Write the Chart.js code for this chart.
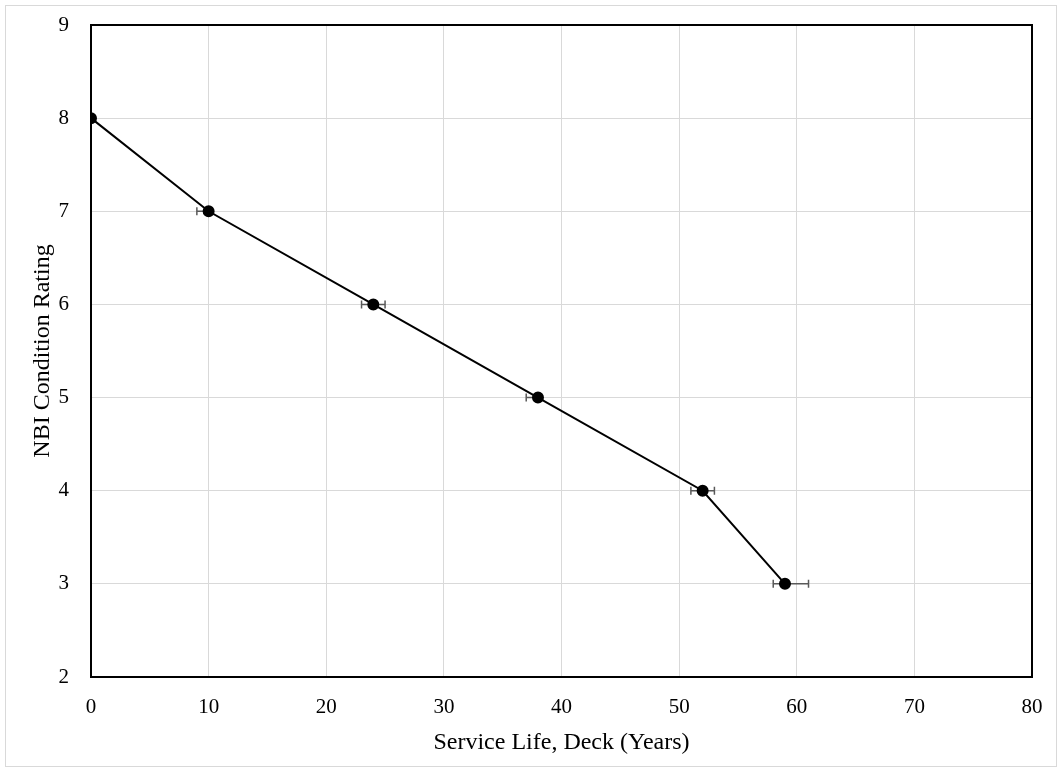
<!DOCTYPE html>
<html>
<head>
<meta charset="utf-8">
<script src="https://cdn.jsdelivr.net/npm/chart.js@4.4.1/dist/chart.umd.min.js"></script>
<style>
  html, body { margin: 0; padding: 0; background: #fff; }
  #wrap { width: 1062px; height: 772px; position: relative; }
</style>
</head>
<body>
<div id="wrap"><canvas id="chart"></canvas></div>
<script>
// Service life (years) for each NBI condition rating
const serviceYears = [0, 10, 24, 38, 52, 59];
const ratings = [8, 7, 6, 5, 4, 3];
// horizontal error bars (years)
const errMinus = [0, 1, 1, 1, 1, 1];
const errPlus = [0, 0, 1, 0, 1, 2];

const xTicks = [0, 10, 20, 30, 40, 50, 60, 70, 80];
const yTicks = [2, 3, 4, 5, 6, 7, 8, 9];

const FONT = "'Liberation Serif', 'Times New Roman', serif";

// draws the x error bars from the scales
const errorBars = {
    id: 'errorBars',
    beforeDatasetsDraw(chart) {
        const { ctx, scales: { x, y } } = chart;
        ctx.save();
        ctx.strokeStyle = '#595959';
        ctx.lineWidth = 1.5;
        serviceYears.forEach((v, i) => {
            const py = y.getPixelForValue(ratings[i]);
            const lo = x.getPixelForValue(v - errMinus[i]);
            const hi = x.getPixelForValue(v + errPlus[i]);
            const cx = x.getPixelForValue(v);
            ctx.beginPath();
            if (errMinus[i] > 0) {
                ctx.moveTo(cx, py); ctx.lineTo(lo, py);
                ctx.moveTo(lo, py - 4); ctx.lineTo(lo, py + 4);
            }
            if (errPlus[i] > 0) {
                ctx.moveTo(cx, py); ctx.lineTo(hi, py);
                ctx.moveTo(hi, py - 4); ctx.lineTo(hi, py + 4);
            }
            ctx.stroke();
        });
        ctx.restore();
    }
};

// plot frame and outer light frame
const frame = {
    id: 'frame',
    afterDraw(chart) {
        const { ctx, chartArea: a } = chart;
        ctx.save();
        ctx.strokeStyle = '#000';
        ctx.lineWidth = 2;
        ctx.strokeRect(a.left, a.top, a.right - a.left, a.bottom - a.top);
        ctx.strokeStyle = '#d9d9d9';
        ctx.lineWidth = 1;
        ctx.strokeRect(5.5, 5.5, chart.width - 11, chart.height - 11);
        ctx.restore();
    }
};

new Chart(document.getElementById('chart'), {
    type: 'scatter',
    data: {
        datasets: [{
            data: serviceYears.map((v, i) => ({ x: v, y: ratings[i] })),
            showLine: true,
            borderColor: '#000',
            borderWidth: 2,
            backgroundColor: '#000',
            pointRadius: 5,
            pointHoverRadius: 5
        }]
    },
    options: {
        responsive: true,
        maintainAspectRatio: false,
        animation: false,
        layout: { padding: { left: 0, right: 30, top: 25, bottom: 0 } },
        plugins: { legend: { display: false }, tooltip: { enabled: false } },
        scales: {
            x: {
                type: 'linear',
                min: 0, max: 80,
                afterBuildTicks: s => { s.ticks = xTicks.map(v => ({ value: v })); },
                afterFit: s => { s.height = 95; s.paddingLeft = 0; s.paddingRight = 0; },
                grid: { color: '#d9d9d9', lineWidth: 1, drawTicks: false },
                border: { display: false },
                ticks: { color: '#000', font: { family: FONT, size: 21 }, padding: 18 },
                title: { display: true, text: 'Service Life, Deck (Years)', color: '#000',
                         font: { family: FONT, size: 24 }, padding: { top: 4, bottom: 15 } }
            },
            y: {
                type: 'linear',
                min: 2, max: 9,
                afterBuildTicks: s => { s.ticks = yTicks.map(v => ({ value: v })); },
                afterFit: s => { s.width = 91; s.paddingTop = 0; s.paddingBottom = 0; },
                grid: { color: '#d9d9d9', lineWidth: 1, drawTicks: false },
                border: { display: false },
                ticks: { color: '#000', font: { family: FONT, size: 21 }, padding: 22 },
                title: { display: true, text: 'NBI Condition Rating', color: '#000',
                         font: { family: FONT, size: 24 }, padding: { top: 28, bottom: 4 } }
            }
        }
    },
    plugins: [errorBars, frame]
});
</script>
</body>
</html>
